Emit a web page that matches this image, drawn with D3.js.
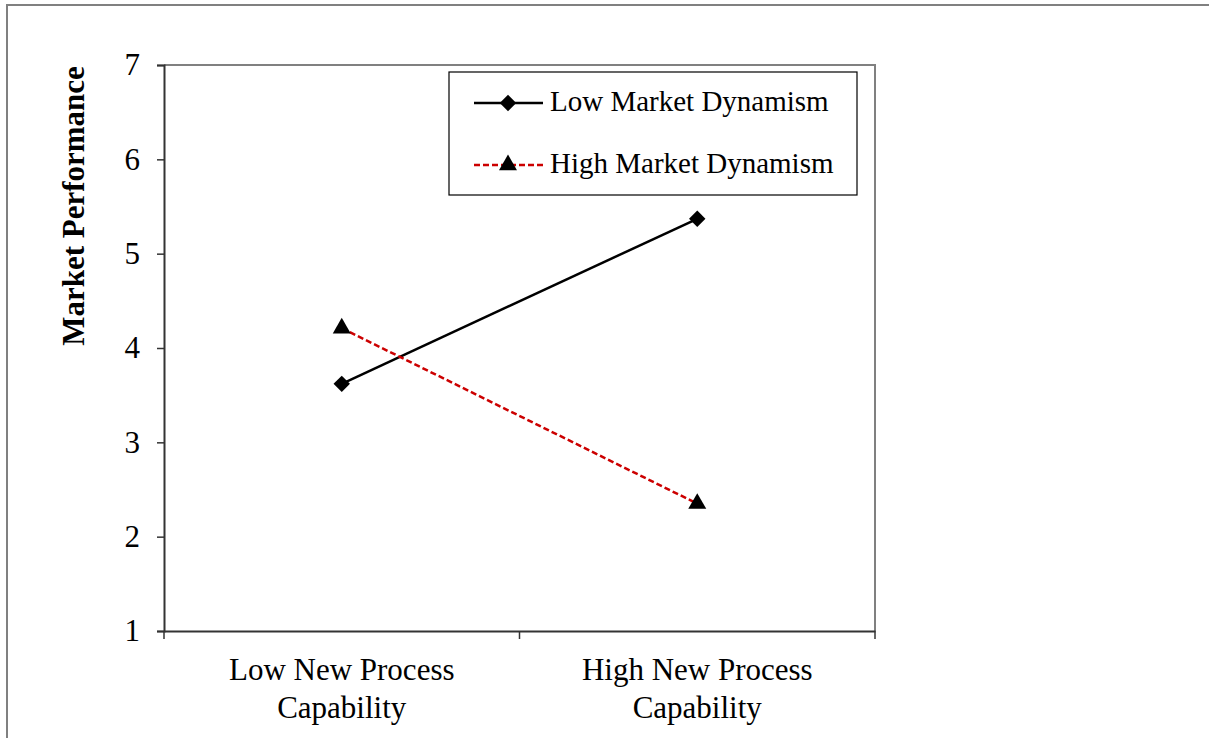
<!DOCTYPE html>
<html>
<head>
<meta charset="utf-8">
<script src="https://cdn.jsdelivr.net/npm/d3@7"></script>
<style>
  body { margin: 0; background: #fff; }
  svg { display: block; font-family: "Liberation Serif", "Times New Roman", serif; }
</style>
</head>
<body>
<svg id="chart" width="1209" height="738"></svg>
<script>
const categories = ["Low New Process|Capability", "High New Process|Capability"];
const lowDynamism = [3.62, 5.37];
const highDynamism = [4.21, 2.35];
const yTicks = [1, 2, 3, 4, 5, 6, 7];
const seriesNames = ["Low Market Dynamism", "High Market Dynamism"];

const svg = d3.select("#chart");

// outer chart frame
svg.append("rect")
  .attr("x", 7).attr("y", 5)
  .attr("width", 1240).attr("height", 760)
  .attr("fill", "none").attr("stroke", "#808080").attr("stroke-width", 2);

const plotL = 164, plotR = 875, plotT = 65, plotB = 631;

const x = d3.scaleBand().domain(categories).range([plotL, plotR]);
const y = d3.scaleLinear().domain([1, 7]).range([plotB, plotT]);

// plot area border (top + right gray)
svg.append("path")
  .attr("d", `M${plotL},${plotT}H${plotR}V${plotB}`)
  .attr("fill", "none").attr("stroke", "#808080").attr("stroke-width", 2);

// y axis
const yAxis = svg.append("g")
  .attr("transform", `translate(${plotL},0)`)
  .call(d3.axisLeft(y).tickValues(yTicks).tickSize(7).tickPadding(17).tickFormat(d3.format("d")));
yAxis.select(".domain").attr("stroke", "#333").attr("stroke-width", 2);
yAxis.selectAll(".tick line").attr("stroke", "#333").attr("stroke-width", 1.5);
yAxis.selectAll("text").attr("font-size", 31).attr("fill", "#000")
  .attr("font-family", "Liberation Serif");

// x axis
const xAxis = svg.append("g")
  .attr("transform", `translate(0,${plotB})`)
  .call(d3.axisBottom(x).tickSize(0).tickFormat(""));
xAxis.select(".domain").attr("stroke", "#333").attr("stroke-width", 2);
xAxis.selectAll(".tick").remove();
const bounds = [plotL].concat(categories.map(c => x(c) + x.bandwidth()));
xAxis.selectAll("line.sep").data(bounds).enter().append("line")
  .attr("x1", d => d).attr("x2", d => d).attr("y1", 0).attr("y2", 8)
  .attr("stroke", "#333").attr("stroke-width", 1.5);

categories.forEach(c => {
  const t = svg.append("text")
    .attr("x", x(c) + x.bandwidth() / 2).attr("y", 680)
    .attr("text-anchor", "middle").attr("font-size", 31).attr("fill", "#000");
  c.split("|").forEach((line, i) => {
    t.append("tspan").attr("x", x(c) + x.bandwidth() / 2).attr("dy", i ? 38 : 0).text(line);
  });
});

// y title
svg.append("text")
  .attr("transform", `translate(84,206) rotate(-90)`)
  .attr("text-anchor", "middle").attr("font-size", 31).attr("font-weight", "bold")
  .text("Market Performance");

const cx = c => x(c) + x.bandwidth() / 2;
const line = d3.line().x((d, i) => cx(categories[i])).y(d => y(d));

svg.append("path").datum(lowDynamism).attr("d", line)
  .attr("fill", "none").attr("stroke", "#000").attr("stroke-width", 2.5);
svg.append("path").datum(highDynamism).attr("d", line)
  .attr("fill", "none").attr("stroke", "#cc0000").attr("stroke-width", 2.5)
  .attr("stroke-dasharray", "6,3");

const diamond = d3.symbol().type(d3.symbolSquare).size(135);
const triangle = d3.symbol().type(d3.symbolTriangle).size(140);

svg.selectAll("path.low").data(lowDynamism).enter().append("path")
  .attr("d", diamond)
  .attr("transform", (d, i) => `translate(${cx(categories[i])},${y(d)}) rotate(45)`)
  .attr("fill", "#000");
svg.selectAll("path.high").data(highDynamism).enter().append("path")
  .attr("d", triangle)
  .attr("transform", (d, i) => `translate(${cx(categories[i])},${y(d)})`)
  .attr("fill", "#000");

// legend
const lg = svg.append("g");
lg.append("rect").attr("x", 449).attr("y", 72).attr("width", 408).attr("height", 123)
  .attr("fill", "#fff").attr("stroke", "#000").attr("stroke-width", 1.2);
const rows = [
  { y: 103, color: "#000", dash: null, sym: diamond, rot: 45 },
  { y: 165, color: "#cc0000", dash: "6,3", sym: triangle, rot: 0 }
];
rows.forEach((r, i) => {
  lg.append("line").attr("x1", 474).attr("x2", 543).attr("y1", r.y).attr("y2", r.y)
    .attr("stroke", r.color).attr("stroke-width", 2.5).attr("stroke-dasharray", r.dash);
  lg.append("path").attr("d", r.sym)
    .attr("transform", `translate(508,${r.y}) rotate(${r.rot})`).attr("fill", "#000");
  lg.append("text").attr("x", 550).attr("y", r.y + 8).attr("font-size", 29)
    .text(seriesNames[i]);
});
</script>
</body>
</html>
